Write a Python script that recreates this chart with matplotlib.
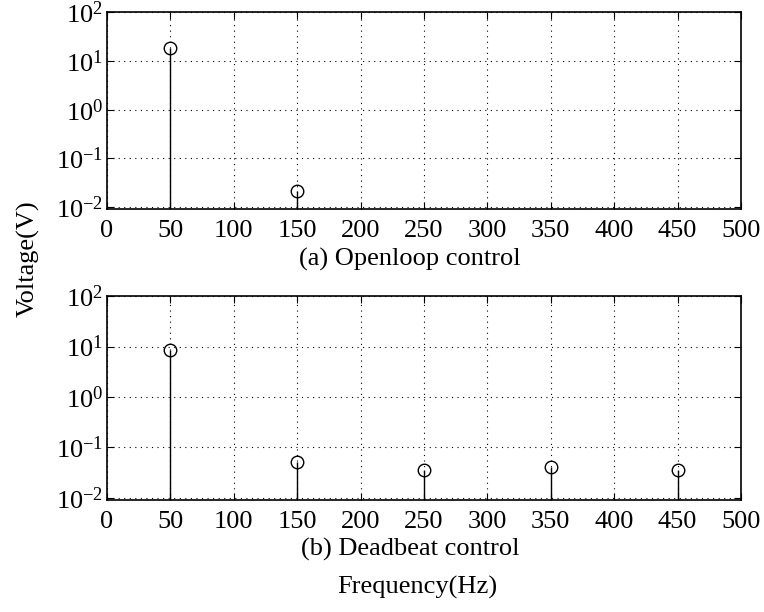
import numpy as np
import matplotlib
matplotlib.use("Agg")
import matplotlib.pyplot as plt

plt.rcParams['font.family'] = ['Liberation Serif', 'DejaVu Serif']
plt.rcParams['mathtext.fontset'] = 'custom'
plt.rcParams['mathtext.rm'] = 'Liberation Serif'
plt.rcParams['mathtext.it'] = 'Liberation Serif:italic'
plt.rcParams['axes.unicode_minus'] = False

# harmonic spectra
freq_open = [50, 150]
volt_open = [18.5, 0.0215]

freq_dead = [50, 150, 250, 350, 450]
volt_dead = [8.6, 0.052, 0.035, 0.040, 0.035]

xticks = list(range(0, 501, 50))
ylow, yhigh = 0.009, 100

fig = plt.figure(figsize=(7.64, 6.12), dpi=100)
ax1 = fig.add_axes([0.140, 0.658, 0.830, 0.322])
ax2 = fig.add_axes([0.140, 0.183, 0.830, 0.333])

def draw(ax, f, v, title, ly):
    ax.set_yscale('log')
    ml, sl, bl = ax.stem(f, v, linefmt='k-', markerfmt='ko', basefmt=' ', bottom=ylow)
    ml.set_markerfacecolor('none')
    ml.set_markersize(9)
    ml.set_markeredgewidth(1.0)
    sl.set_linewidth(1.0)
    ax.set_xlim(0, 500)
    ax.set_ylim(ylow, yhigh)
    ax.set_xticks(xticks)
    ax.set_yticks([1e-2, 1e-1, 1e0, 1e1, 1e2])
    ax.yaxis.set_minor_locator(matplotlib.ticker.NullLocator())
    ax.grid(True, color='k', linestyle=(0, (1, 4)), linewidth=0.8)
    ax.tick_params(direction='in', top=True, right=True, length=5,
                   labelsize=19, pad=3)
    ax.tick_params(axis='x', pad=8)
    for s in ax.spines.values():
        s.set_linewidth(1.2)
    ax.set_xlabel(title, fontsize=19, labelpad=0)
    ax.xaxis.set_label_coords(0.478, ly)

draw(ax1, freq_open, volt_open, '(a) Openloop control', -0.198)
draw(ax2, freq_dead, volt_dead, '(b) Deadbeat control', -0.186)

fig.text(0.037, 0.578, 'Voltage(V)', rotation=90, fontsize=19, ha='center', va='center')
fig.text(0.546, 0.040, 'Frequency(Hz)', fontsize=19, ha='center', va='center')

fig.savefig('out.png', dpi=100)
